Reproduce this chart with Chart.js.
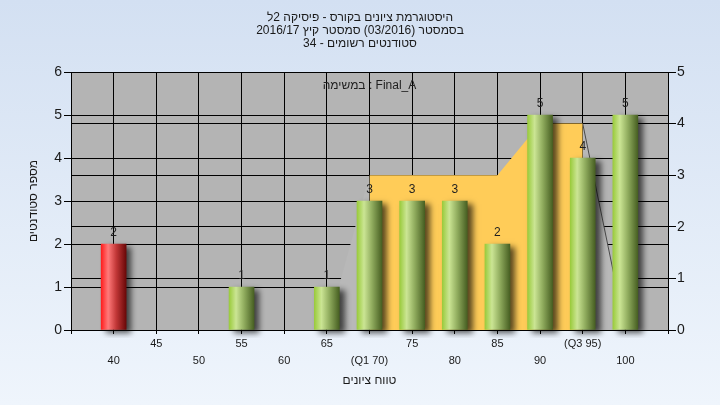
<!DOCTYPE html>
<html><head><meta charset="utf-8">
<script src="https://cdn.jsdelivr.net/npm/chart.js@4"></script>
<style>html,body{margin:0;padding:0;background:#e6eef9;overflow:hidden}</style>
</head><body>
<canvas id="c" width="720" height="405"></canvas>
<script>
// ---- data ----
const titleLines = ['היסטוגרמת ציונים בקורס - פיסיקה 2ל', 'בסמסטר (03/2016) סמסטר קיץ 2016/17', 'סטודנטים רשומים - 34'];
const seriesLabel = 'במשימה : Final_A';
const xAxisTitle = 'טווח ציונים';
const yAxisTitle = 'מספר סטודנטים';
const gradeBins = [40, 45, 50, 55, 60, 65, 70, 75, 80, 85, 90, 95, 100];
const gradeTickLabels = ['40', '45', '50', '55', '60', '65', '(Q1 70)', '75', '80', '85', '90', '(Q3 95)', '100'];
const barGrades = [40, 55, 65, 70, 75, 80, 85, 90, 95, 100];
const barCounts = [2, 1, 1, 3, 3, 3, 2, 5, 4, 5];
const areaGrades = [65, 70, 75, 80, 85, 90, 95, 100];
const areaValues = [0, 3, 3, 3, 3, 4, 4, 0];
const q1Grade = 70, q3Grade = 95;
const passMark = 50;

// ---- build ----
const FONT = "'Liberation Sans', Arial, 'DejaVu Sans', sans-serif";
const RLE = '\u202B', PDF = '\u202C';
const barPts = barGrades.map((g, i) => ({x: g, y: barCounts[i]}));
const areaPts = areaGrades.map((g, i) => ({x: g, y: areaValues[i]}));
const lowPts = areaPts.filter(p => p.x <= q1Grade);
const midPts = areaPts.filter(p => p.x >= q1Grade && p.x <= q3Grade);
const highPts = areaPts.filter(p => p.x >= q3Grade);
const BAR_W = 25;

function barFill(c) {
  const chart = c.chart, xs = chart.scales && chart.scales.x;
  const fail = c.raw && c.raw.x < passMark;
  if (!xs || !c.raw) return fail ? '#E03030' : '#9DBE55';
  const cx = xs.getPixelForValue(c.raw.x);
  if (!isFinite(cx)) return fail ? '#E03030' : '#9DBE55';
  const g = chart.ctx.createLinearGradient(cx - BAR_W / 2, 0, cx + BAR_W / 2, 0);
  if (fail) {
    g.addColorStop(0, '#FF1E1E'); g.addColorStop(0.28, '#FF7A7A');
    g.addColorStop(0.6, '#C23838'); g.addColorStop(1, '#6A0808');
  } else {
    g.addColorStop(0, '#9ACB3C'); g.addColorStop(0.28, '#CBE594');
    g.addColorStop(0.6, '#90AC5E'); g.addColorStop(1, '#475F22');
  }
  return g;
}

const bgPlugin = {
  id: 'bg',
  beforeDraw(chart) {
    const {ctx, width, height, chartArea: a} = chart;
    ctx.save();
    const g = ctx.createLinearGradient(0, 0, 0, height);
    g.addColorStop(0, '#D3E0F2'); g.addColorStop(1, '#EFF5FC');
    ctx.fillStyle = g; ctx.fillRect(0, 0, width, height);
    ctx.fillStyle = '#B4B4B4';
    ctx.fillRect(a.left, a.top, a.right - a.left, a.bottom - a.top);
    ctx.restore();
  }
};
const shadowPlugin = {
  id: 'shadow',
  beforeDatasetDraw(chart, args) {
    if (args.meta.type !== 'bar') return;
    const ctx = chart.ctx; ctx.save();
    ctx.shadowColor = 'rgba(0,0,0,0.65)'; ctx.shadowBlur = 6;
    ctx.shadowOffsetX = 5; ctx.shadowOffsetY = 3;
  },
  afterDatasetDraw(chart, args) {
    if (args.meta.type !== 'bar') return;
    chart.ctx.restore();
  }
};
const labelPlugin = {
  id: 'labels',
  afterDatasetsDraw(chart) {
    const ctx = chart.ctx, a = chart.chartArea;
    ctx.save();
    ctx.font = '12px ' + FONT; ctx.fillStyle = '#1f1f1f';
    ctx.textAlign = 'center'; ctx.textBaseline = 'middle';
    chart.data.datasets.forEach((ds, di) => {
      const meta = chart.getDatasetMeta(di);
      if (meta.type !== 'bar') return;
      meta.data.forEach((el, i) => ctx.fillText(String(ds.data[i].y), el.x, el.y - 11));
    });
    ctx.fillText(seriesLabel, (a.left + a.right) / 2, a.top + 14);
    ctx.restore();
  }
};

new Chart(document.getElementById('c'), {
  type: 'bar',
  data: {
    datasets: [
      {type: 'bar', data: barPts, yAxisID: 'y', backgroundColor: barFill, borderWidth: 0,
       barThickness: BAR_W, order: 0, clip: 8},
      {type: 'line', data: lowPts, yAxisID: 'y1', fill: 'origin', backgroundColor: '#B8B8B8',
       borderWidth: 0, pointRadius: 0, tension: 0, order: 1},
      {type: 'line', data: midPts, yAxisID: 'y1', fill: 'origin', backgroundColor: '#FFCC58',
       borderWidth: 0, pointRadius: 0, tension: 0, order: 1},
      {type: 'line', data: highPts, yAxisID: 'y1', fill: 'origin', backgroundColor: '#B8B8B8',
       borderColor: '#4a4a4a', borderWidth: 1, pointRadius: 0, tension: 0, order: 1}
    ]
  },
  options: {
    responsive: false, animation: false, devicePixelRatio: 1,
    layout: {padding: 0},
    plugins: {
      legend: {display: false}, tooltip: {enabled: false},
      title: {display: true, text: titleLines.map(t => RLE + t + PDF), color: '#1a1a1a',
        font: {family: FONT, size: 12, weight: 'normal', lineHeight: 13 / 12},
        padding: {top: 11, bottom: 22}}
    },
    scales: {
      x: {type: 'linear', min: 35, max: 105, offset: false,
        grid: {color: '#000', lineWidth: 1, tickLength: 4, offset: false, drawTicks: true, tickColor: '#000'},
        border: {color: '#000'},
        ticks: {stepSize: 5, autoSkip: false, maxRotation: 0, color: '#1a1a1a', padding: 2,
          font: {family: FONT, size: 11, lineHeight: 1.5},
          callback: (v) => {
            const i = gradeBins.indexOf(v);
            if (i < 0) return '';
            return (i % 2 === 0) ? ['', gradeTickLabels[i]] : gradeTickLabels[i];
          }},
        title: {display: true, text: xAxisTitle, color: '#1a1a1a', font: {family: FONT, size: 12},
          padding: {top: 0, bottom: 17}},
        afterFit: s => { s.height = 75; }
      },
      y: {position: 'left', min: 0, max: 6,
        grid: {color: '#000', tickLength: 7, tickColor: '#000'}, border: {color: '#000'},
        ticks: {stepSize: 1, color: '#1a1a1a', padding: 2, font: {family: FONT, size: 14}},
        title: {display: true, text: yAxisTitle, color: '#1a1a1a', font: {family: FONT, size: 12},
          padding: {top: 26, bottom: 0}},
        afterFit: s => { s.width = 71; }
      },
      y1: {position: 'right', min: 0, max: 5,
        grid: {color: '#000', tickLength: 8, tickColor: '#000'}, border: {color: '#000'},
        ticks: {stepSize: 1, color: '#1a1a1a', padding: 1, font: {family: FONT, size: 14}},
        afterFit: s => { s.width = 52; }
      }
    }
  },
  plugins: [bgPlugin, shadowPlugin, labelPlugin]
});
</script>
</body></html>
